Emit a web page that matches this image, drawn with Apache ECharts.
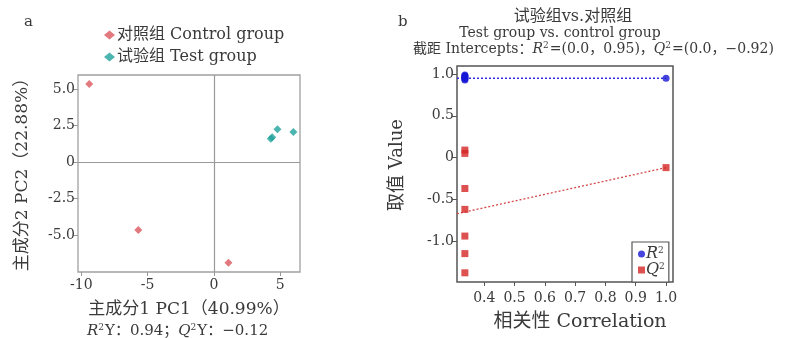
<!DOCTYPE html>
<html><head><meta charset="utf-8">
<script src="https://cdn.jsdelivr.net/npm/echarts@6/dist/echarts.min.js"></script>
<style>html,body{margin:0;padding:0;background:#fff}#c{width:812px;height:338px}</style>
</head><body><div id="c"></div>
<script>
// ---- data ----
var controlPts = [[-9.4, 5.35], [-5.7, -4.65], [1.1, -6.9]];
var testPts = [[4.8, 2.25], [6.0, 2.05], [4.3, 1.6], [4.4, 1.7]];
var pcaXTicks = [-10, -5, 0, 5];
var pcaYTicks = [-5, -2.5, 0, 2.5, 5];
var r2Pts = [[0.336, 0.99], [0.336, 0.98], [0.336, 0.97], [0.336, 0.96], [0.336, 0.95], [0.336, 0.94], [0.336, 0.93], [1.0, 0.95]];
var q2Pts = [[0.336, 0.09], [0.336, 0.05], [0.336, -0.37], [0.336, -0.62], [0.336, -0.94], [0.336, -1.15], [0.336, -1.38], [1.0, -0.12]];
var r2Line = [[0.31, 0.95], [1.0, 0.95]];
var q2Line = [[0.31, -0.672], [1.0, -0.12]];
var corrXTicks = [0.4, 0.5, 0.6, 0.7, 0.8, 0.9, 1.0];
var valYTicks = [-1, -0.5, 0, 0.5, 1];

var SERIF = "'DejaVu Serif','Noto Sans CJK SC',serif";
var TXT = '#3a3a3a';
function fmt1(v){ return (v === 0) ? '0' : v.toFixed(1); }
var chart = echarts.init(document.getElementById('c'));
var axisLbl = {fontFamily: SERIF, fontSize: 14, color: TXT};
var supRich = {
  i: {fontStyle: 'italic', fontFamily: SERIF, fontSize: 15, fill: TXT, color: TXT},
  s: {fontFamily: SERIF, fontSize: 9, verticalAlign: 'top', fill: TXT, color: TXT, padding: [0, 1, 7, 0]}
};
var option = {
  animation: false,
  textStyle: {fontFamily: SERIF},
  grid: [
    {left: 78, top: 75, width: 222, height: 197, show: true, borderColor: '#a0a0a0', borderWidth: 1.3, backgroundColor: 'transparent'},
    {left: 457, top: 66, width: 216, height: 216, show: true, borderColor: '#555', borderWidth: 1.5, backgroundColor: 'transparent'}
  ],
  legend: [
    {orient: 'vertical', left: 99, top: 22, itemGap: 6, itemWidth: 11, itemHeight: 9,
     textStyle: {fontFamily: SERIF, fontSize: 16, color: TXT, padding: [0,0,0,-3]},
     data: [{name: '对照组 Control group', icon: 'diamond'}, {name: '试验组 Test group', icon: 'diamond'}]},
    {orient: 'vertical', left: 632, top: 242, width: 41, height: 40, padding: [4, 4, 4, 6], itemGap: 0, itemWidth: 7, itemHeight: 7,
     borderColor: '#555', borderWidth: 1.2, backgroundColor: '#fff',
     textStyle: {fontFamily: SERIF, fontSize: 16, color: TXT, padding: [0,0,0,-4],
       rich: {i: {fontFamily: SERIF, fontSize: 16, fontStyle: 'italic', color: TXT}, s: {fontFamily: SERIF, fontSize: 9, color: TXT, verticalAlign: 'top', padding:[0,0,7,0]}}},
     formatter: function(n){ return n === 'R2' ? '{i|R}{s|2}' : '{i|Q}{s|2}'; },
     data: [{name: 'R2', icon: 'circle'}, {name: 'Q2', icon: 'rect'}]}
  ],
  xAxis: [
    {gridIndex: 0, type: 'value', min: -10.25, max: 6.5,
     name: '主成分1 PC1（40.99%）', nameLocation: 'middle', nameGap: 29,
     nameTextStyle: {fontFamily: SERIF, fontSize: 17, color: TXT},
     axisLine: {show: false, onZero: false}, splitLine: {show: false},
     axisTick: {show: true, length: 4, customValues: pcaXTicks, lineStyle: {color: '#999'}},
     axisLabel: Object.assign({customValues: pcaXTicks, margin: 6, formatter: function(v){return String(v);}}, axisLbl)},
    {gridIndex: 1, type: 'value', min: 0.31, max: 1.023,
     name: '相关性 Correlation', nameLocation: 'middle', nameGap: 31,
     nameTextStyle: {fontFamily: SERIF, fontSize: 19, color: TXT, padding: [0, 0, 0, 30]},
     axisLine: {show: false, onZero: false}, splitLine: {show: false},
     axisTick: {show: true, length: 4, customValues: corrXTicks, lineStyle: {color: '#555'}},
     axisLabel: Object.assign({customValues: corrXTicks, margin: 9, formatter: function(v){return v.toFixed(1);}}, axisLbl)}
  ],
  yAxis: [
    {gridIndex: 0, type: 'value', min: -7.53, max: 5.96,
     name: '主成分2 PC2（22.88%）', nameLocation: 'middle', nameGap: 47,
     nameTextStyle: {fontFamily: SERIF, fontSize: 17, color: TXT, padding: [0, 0, 0, 6]},
     axisLine: {show: false, onZero: false}, splitLine: {show: false},
     axisTick: {show: true, length: 5, customValues: pcaYTicks, lineStyle: {color: '#999'}},
     axisLabel: Object.assign({customValues: pcaYTicks, margin: 3, formatter: fmt1}, axisLbl)},
    {gridIndex: 1, type: 'value', min: -1.49, max: 1.097,
     name: '取值 Value', nameLocation: 'middle', nameGap: 51,
     nameTextStyle: {fontFamily: SERIF, fontSize: 18, color: TXT, padding: [0, 0, 0, 18]},
     axisLine: {show: false, onZero: false}, splitLine: {show: false},
     axisTick: {show: true, length: 5, customValues: valYTicks, lineStyle: {color: '#555'}},
     axisLabel: Object.assign({customValues: valYTicks, margin: 3, formatter: fmt1}, axisLbl)}
  ],
  series: [
    {name: '对照组 Control group', type: 'scatter', xAxisIndex: 0, yAxisIndex: 0, symbol: 'diamond', symbolSize: 8,
     itemStyle: {color: '#d9575e'}, data: controlPts,
     markLine: {silent: true, symbol: 'none', label: {show: false}, lineStyle: {color: '#999', type: 'solid', width: 1.2},
       data: [{xAxis: 0}, {yAxis: 0}]}},
    {name: '试验组 Test group', type: 'scatter', xAxisIndex: 0, yAxisIndex: 0, symbol: 'diamond', symbolSize: 8,
     itemStyle: {color: '#1fa39b'}, data: testPts},
    {name: 'R2', type: 'scatter', xAxisIndex: 1, yAxisIndex: 1, symbol: 'circle', symbolSize: 7,
     itemStyle: {color: '#1717d6'}, data: r2Pts, z: 3},
    {name: 'Q2', type: 'scatter', xAxisIndex: 1, yAxisIndex: 1, symbol: 'rect', symbolSize: 7,
     itemStyle: {color: '#d42525'}, data: q2Pts, z: 3},
    {name: 'R2line', type: 'line', xAxisIndex: 1, yAxisIndex: 1, symbol: 'none', data: r2Line,
     lineStyle: {color: '#3030e0', type: [2, 2], width: 1.3}, z: 2},
    {name: 'Q2line', type: 'line', xAxisIndex: 1, yAxisIndex: 1, symbol: 'none', data: q2Line,
     lineStyle: {color: '#d44848', type: [2, 2], width: 1.3}, z: 2}
  ],
  graphic: [
    {type: 'text', x: 24, y: 22, style: {text: 'a', font: '15px ' + SERIF, fill: TXT, verticalAlign: 'middle'}},
    {type: 'text', x: 398, y: 22, style: {text: 'b', font: '15px ' + SERIF, fill: TXT, verticalAlign: 'middle'}},
    {type: 'text', x: 87, y: 331, style: {
      text: '{i|R}{s|2}Y：0.94；{i|Q}{s|2}Y：−0.12', font: '15px ' + SERIF, fill: TXT, verticalAlign: 'middle', rich: supRich}},
    {type: 'text', x: 573, y: 17, style: {text: '试验组vs.对照组', font: '16px ' + SERIF, fill: TXT, align: 'center', verticalAlign: 'middle'}},
    {type: 'text', x: 560, y: 33, style: {text: 'Test group vs. control group', font: '14px ' + SERIF, fill: TXT, align: 'center', verticalAlign: 'middle'}},
    {type: 'text', x: 413, y: 49, style: {
      text: '截距 Intercepts：{i|R}{s|2}=(0.0，0.95)，{i|Q}{s|2}=(0.0，−0.92)', font: '14px ' + SERIF, fill: TXT, verticalAlign: 'middle',
      rich: {i: {fontStyle: 'italic', fontFamily: SERIF, fontSize: 14, fill: TXT}, s: {fontFamily: SERIF, fontSize: 9, verticalAlign: 'top', fill: TXT, padding: [0,1,6,0]}}}}
  ]
};
chart.setOption(option);
</script></body></html>
